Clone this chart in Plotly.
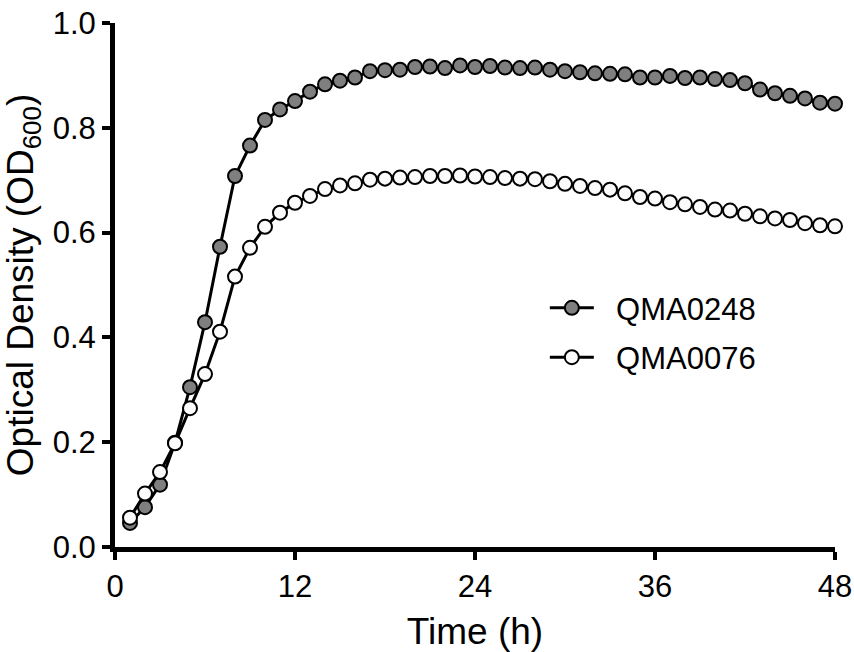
import plotly.graph_objects as go

time_h = list(range(1, 49))

qma0248 = [0.046, 0.076, 0.119, 0.199, 0.305, 0.429, 0.573, 0.708, 0.766, 0.815,
           0.835, 0.851, 0.869, 0.883, 0.890, 0.896, 0.908, 0.910, 0.911, 0.916,
           0.917, 0.914, 0.919, 0.916, 0.918, 0.915, 0.914, 0.915, 0.911, 0.908,
           0.906, 0.904, 0.903, 0.902, 0.896, 0.896, 0.899, 0.895, 0.896, 0.893,
           0.891, 0.885, 0.873, 0.866, 0.861, 0.856, 0.848, 0.846]

qma0076 = [0.056, 0.102, 0.143, 0.198, 0.265, 0.330, 0.411, 0.516, 0.571, 0.611,
           0.638, 0.657, 0.670, 0.683, 0.690, 0.694, 0.701, 0.703, 0.705, 0.706,
           0.708, 0.708, 0.709, 0.707, 0.706, 0.704, 0.703, 0.702, 0.698, 0.693,
           0.689, 0.685, 0.682, 0.675, 0.668, 0.665, 0.658, 0.654, 0.649, 0.644,
           0.642, 0.636, 0.631, 0.627, 0.624, 0.618, 0.614, 0.612]

series_names = ["QMA0248", "QMA0076"]
x_ticks = [0, 12, 24, 36, 48]
y_ticks = [0.0, 0.2, 0.4, 0.6, 0.8, 1.0]
y_tick_labels = ["0.0", "0.2", "0.4", "0.6", "0.8", "1.0"]

FONT = "Liberation Sans, Arial, Helvetica, sans-serif"
FS = 31
NB = "\u00a0\u00a0"

fig = go.Figure()
fig.add_trace(go.Scatter(
    x=time_h, y=qma0248, name=NB + series_names[0], legendgroup="a",
    mode="lines+markers",
    line=dict(color="black", width=3),
    marker=dict(size=14, color="#7f7f7f", line=dict(color="black", width=2)),
    cliponaxis=False,
))
fig.add_trace(go.Scatter(
    x=time_h, y=qma0076, name=NB + series_names[1], legendgroup="b",
    mode="lines+markers",
    line=dict(color="black", width=3),
    marker=dict(size=14, color="#fbfbfb", line=dict(color="black", width=2)),
    cliponaxis=False,
))

fig.update_layout(
    width=854, height=652,
    margin=dict(l=115, r=19, t=23, b=105),
    paper_bgcolor="white", plot_bgcolor="white",
    font=dict(family=FONT, size=FS, color="black"),
    showlegend=True,
    legend=dict(x=0.597, y=0.409, xanchor="left", yanchor="middle",
                bgcolor="rgba(0,0,0,0)", font=dict(size=FS),
                itemwidth=44, tracegroupgap=6),
    xaxis=dict(range=[0, 48], tickvals=x_ticks, ticks="outside", ticklen=8,
               tickwidth=4, tickcolor="black", showline=True, linewidth=5,
               linecolor="black", showgrid=False, zeroline=False,
               automargin=False,
               title=dict(text="Time (h)", standoff=18),
               tickfont=dict(size=FS)),
    yaxis=dict(range=[0, 1.0], tickvals=y_ticks, ticktext=y_tick_labels,
               ticks="outside", ticklen=8, tickwidth=4, tickcolor="black",
               showline=True, linewidth=5, linecolor="black", showgrid=False,
               zeroline=False, automargin=False,
               title=dict(text="Optical Density (OD<sub>600</sub>)", standoff=10),
               tickfont=dict(size=FS)),
)

fig.write_html("out.html")
